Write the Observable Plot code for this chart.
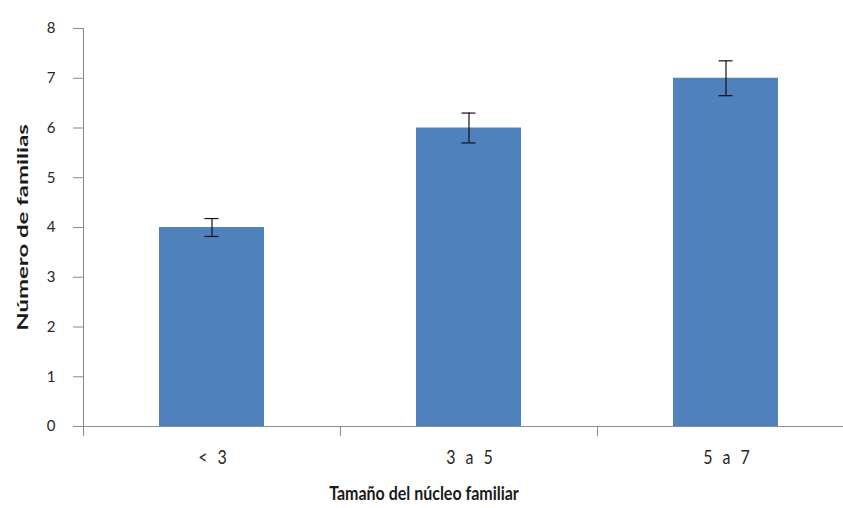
<!DOCTYPE html>
<html><head><meta charset="utf-8">
<script src="https://cdn.jsdelivr.net/npm/d3@7"></script>
<script src="https://cdn.jsdelivr.net/npm/@observablehq/plot@0.6"></script>
<style>body{margin:0;background:#fff}</style>
</head><body><div id="chart"></div>
<script>
const categories = ["< 3", "3 a 5", "5 a 7"];
const values = [4, 6, 7];
const errors = [0.18, 0.3, 0.35];
const yTicks = [0, 1, 2, 3, 4, 5, 6, 7, 8];
const xTitle = "Tamaño del núcleo familiar";
const yTitle = "Número de familias";

const data = categories.map((c, i) => ({c, i, v: values[i], e: errors[i]}));
const gray = "#8a8a8a";
const font = "Lato, 'Open Sans', sans-serif";

const chart = Plot.plot({
  width: 843,
  height: 508,
  marginLeft: 83,
  marginRight: -11,
  marginTop: 28,
  marginBottom: 82,
  style: {fontFamily: font, background: "#fff"},
  x: {domain: [0, 3], axis: null},
  y: {domain: [0, 8], axis: null},
  marks: [
    Plot.rectY(data, {x1: d => d.i, x2: d => d.i + 1, y1: 0, y2: "v", insetLeft: 76, insetRight: 76, fill: "#4F81BD"}),
    Plot.ruleX(data, {x: d => d.i + 0.5, y1: d => d.v - d.e, y2: d => d.v + d.e, stroke: "#111", strokeWidth: 1.2}),
    Plot.ruleY(data, {y: d => d.v + d.e, x1: d => d.i + 0.5, x2: d => d.i + 0.5, insetLeft: -7, insetRight: -7, stroke: "#111", strokeWidth: 1.2}),
    Plot.ruleY(data, {y: d => d.v - d.e, x1: d => d.i + 0.5, x2: d => d.i + 0.5, insetLeft: -7, insetRight: -7, stroke: "#111", strokeWidth: 1.2}),
    Plot.ruleY([0], {stroke: gray}),
    Plot.ruleX([0], {y1: 0, y2: 8, stroke: gray}),
    Plot.axisY({ticks: yTicks, tickSize: 10, tickFormat: () => "", label: null, color: gray}),
    Plot.axisY({ticks: yTicks, tickSize: 0, tickPadding: 28, label: null, fontSize: 15, color: "#262626"}),
    Plot.axisX({ticks: [0, 1, 2, 3], tickSize: 10, tickFormat: () => "", label: null, color: gray}),
    Plot.text(data, {x: d => d.i + 0.5, y: 0, text: "c", dy: 32, dx: 2, lineAnchor: "middle", fontSize: 16, fill: "#262626"}),
    Plot.text([xTitle], {frameAnchor: "bottom", dy: 67, dx: -45, textAnchor: "middle", lineAnchor: "middle", fontSize: 16, fontWeight: "bold", fill: "#1a1a1a"}),
    Plot.text([yTitle], {frameAnchor: "left", dx: -61, rotate: -90, textAnchor: "middle", lineAnchor: "middle", fontSize: 16, fontWeight: "bold", fill: "#1a1a1a"})
  ]
});
const svg = d3.select(chart);
function stretch(sel, sx, sy) {
  sel.each(function() {
    const t = this.getAttribute("transform");
    if (t) this.setAttribute("transform", t + ` scale(${sx},${sy})`);
  });
}
const xl = svg.selectAll("text").filter(function() { return categories.includes(this.textContent); });
xl.style("letter-spacing", "3px").attr("letter-spacing", "3px");
stretch(xl, 1, 1.15);
stretch(svg.selectAll("text").filter(function() { return this.textContent === xTitle; }), 1, 1.2);
stretch(svg.selectAll("text").filter(function() { return this.textContent === yTitle; }), 1.5, 1);
document.getElementById("chart").appendChild(chart);
</script>
</body></html>
